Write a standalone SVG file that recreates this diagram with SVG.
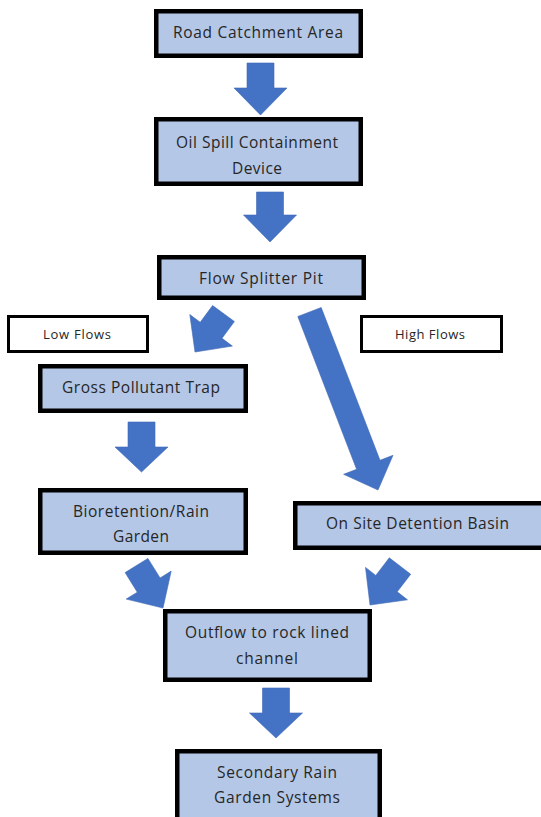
<svg xmlns="http://www.w3.org/2000/svg" width="541" height="817" viewBox="0 0 541 817">
<style>
.box{fill:#B4C7E7;stroke:#000;stroke-width:4.5}
.lbl{fill:#fff;stroke:#000;stroke-width:3}
.t{font-family:"Open Sans","Liberation Sans",sans-serif;font-size:15.5px;fill:#262626;text-anchor:middle}
.s{font-family:"Open Sans","Liberation Sans",sans-serif;font-size:13px;fill:#262626;text-anchor:middle}
.arr{fill:#4472C4;stroke:#3F69B5;stroke-width:0.6}
</style>
<rect width="541" height="817" fill="#fff"/>
<g id="connectors">
<polygon class="arr" points="247,63 274,63 274,88 287,88 260.5,115 234,88 247,88"/>
<polygon class="arr" points="256.5,192 283.5,192 283.5,215 296.5,215 270,242 243.5,215 256.5,215"/>
<polygon class="arr" points="212.6,305.5 234.4,321.5 222,338.3 232.4,346.1 195,352 189.8,314.5 200.2,322.3"/>
<polygon class="arr" points="321.2,307.5 380,460.3 393,455.3 378,490 343.6,474.3 356.6,469.3 297.8,316.5"/>
<polygon class="arr" points="128,422 155,422 155,447 168,447 141.5,472 115,447 128,447"/>
<polygon class="arr" points="125.1,572.6 147.9,558.4 160.1,578 171.2,571.1 163,608 126.2,599.1 137.3,592.2"/>
<polygon class="arr" points="389.3,557.8 410.7,574.2 397.2,591.8 407.5,599.8 370,605 365.5,567.4 375.8,575.4"/>
<polygon class="arr" points="262.5,688 289.5,688 289.5,713 302.5,713 276,738 249.5,713 262.5,713"/>
</g>
<g id="road-catchment">
<rect class="box" x="156.25" y="11.25" width="204.5" height="44.5"/>
<text class="t" x="258" y="38" textLength="170" lengthAdjust="spacing">Road Catchment Area</text>
</g>
<g id="oil-spill">
<rect class="box" x="156.25" y="119.25" width="204.5" height="64.5"/>
<text class="t" x="257" y="148" textLength="162" lengthAdjust="spacing">Oil Spill Containment</text>
<text class="t" x="257" y="174" textLength="50" lengthAdjust="spacing">Device</text>
</g>
<g id="flow-splitter">
<rect class="box" x="159.25" y="257.25" width="204.5" height="40.5"/>
<text class="t" x="261" y="284" textLength="124" lengthAdjust="spacing">Flow Splitter Pit</text>
</g>
<g id="low-flows">
<rect class="lbl" x="8.5" y="316.5" width="139" height="35"/>
<text class="s" x="77" y="339" textLength="68" lengthAdjust="spacing">Low Flows</text>
</g>
<g id="high-flows">
<rect class="lbl" x="361.5" y="316.5" width="140" height="35"/>
<text class="s" x="430" y="339" textLength="70" lengthAdjust="spacing">High Flows</text>
</g>
<g id="gross-pollutant-trap">
<rect class="box" x="40.25" y="366.25" width="205.5" height="44.5"/>
<text class="t" x="141" y="393" textLength="158" lengthAdjust="spacing">Gross Pollutant Trap</text>
</g>
<g id="bioretention">
<rect class="box" x="40.25" y="490.25" width="205.5" height="62.5"/>
<text class="t" x="141" y="517" textLength="136" lengthAdjust="spacing">Bioretention/Rain</text>
<text class="t" x="141" y="542" textLength="56" lengthAdjust="spacing">Garden</text>
</g>
<g id="on-site-detention">
<rect class="box" x="295.25" y="503.25" width="270" height="44.5"/>
<text class="t" x="417.5" y="529" textLength="183" lengthAdjust="spacing">On Site Detention Basin</text>
</g>
<g id="outflow">
<rect class="box" x="165.25" y="611.25" width="204.5" height="68.5"/>
<text class="t" x="267" y="638" textLength="164" lengthAdjust="spacing">Outflow to rock lined</text>
<text class="t" x="267" y="664" textLength="62" lengthAdjust="spacing">channel</text>
</g>
<g id="secondary-rain-garden">
<rect class="box" x="177.25" y="751.25" width="202.5" height="80"/>
<text class="t" x="277" y="778" textLength="120" lengthAdjust="spacing">Secondary Rain</text>
<text class="t" x="277" y="803" textLength="126" lengthAdjust="spacing">Garden Systems</text>
</g>
</svg>
